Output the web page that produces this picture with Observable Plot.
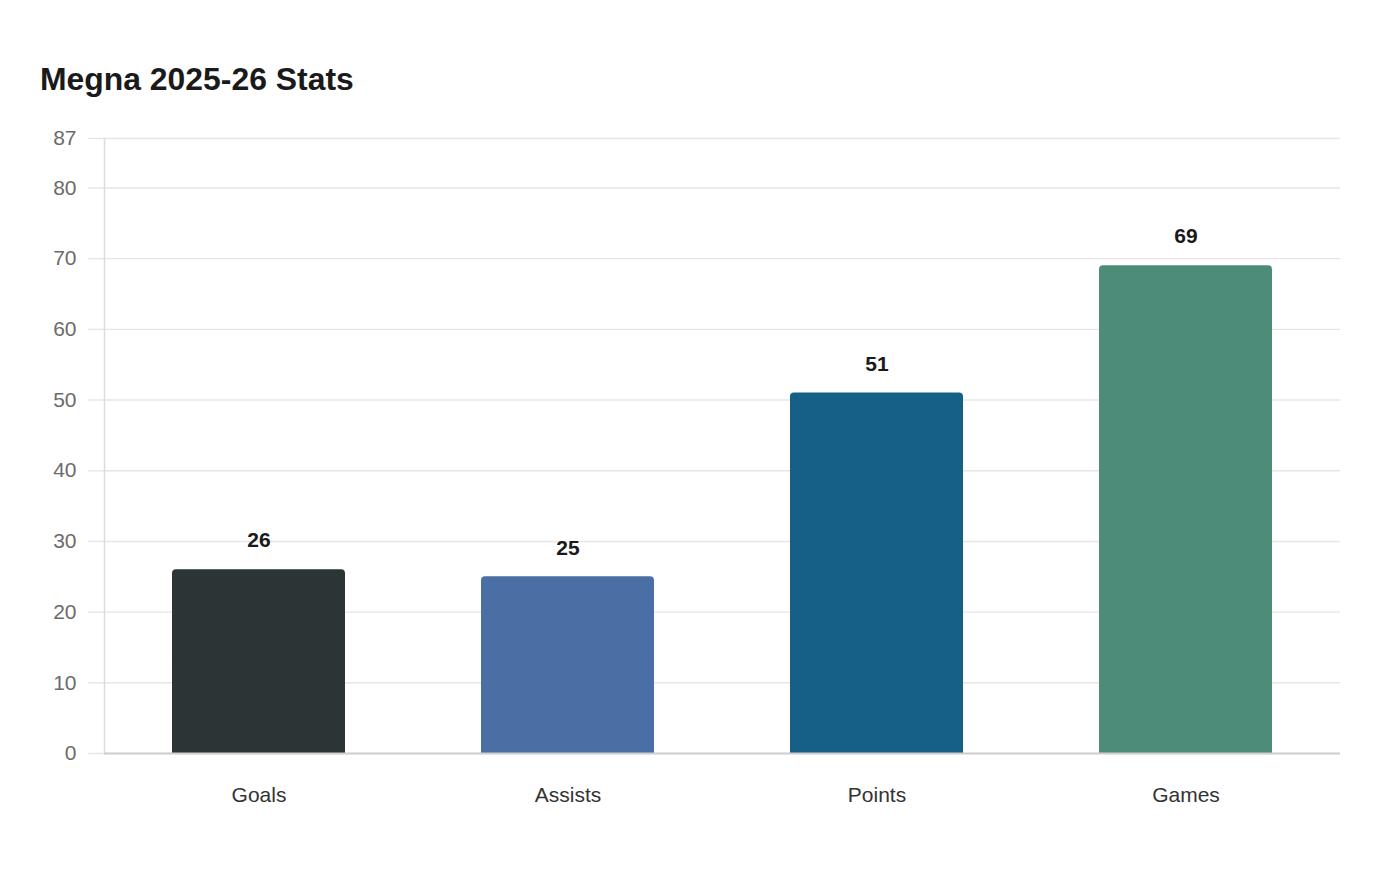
<!DOCTYPE html>
<html>
<head>
<meta charset="utf-8">
<script src="https://cdn.jsdelivr.net/npm/d3@7"></script>
<script src="https://cdn.jsdelivr.net/npm/@observablehq/plot@0.6"></script>
<style>
  html, body { margin: 0; padding: 0; background: #fff; }
  body { width: 1400px; height: 880px; overflow: hidden; font-family: "Liberation Sans", Arial, sans-serif; }
  #title { padding: 61px 0 0 40px; font-size: 31.9px; line-height: 36px; font-weight: bold; color: #1a1a1a; height: 35px; }
  svg { display: block; }
</style>
</head>
<body>
<div id="title">Megna 2025-26 Stats</div>
<div id="chart"></div>
<script>
const categories = ["Goals", "Assists", "Points", "Games"];
const values = [26, 25, 51, 69];
const colors = ["#2d3436", "#4a6fa5", "#166088", "#4e8c7a"];
const yTicks = [0, 10, 20, 30, 40, 50, 60, 70, 80, 87];

const data = categories.map((c, i) => ({category: c, value: values[i], color: colors[i]}));

const chart = Plot.plot({
  width: 1400,
  height: 784,
  marginLeft: 104,
  marginRight: 60,
  marginTop: 42,
  marginBottom: 127,
  style: {fontFamily: "Liberation Sans, Arial, sans-serif", background: "#fff"},
  x: {domain: categories, paddingInner: 0.44, paddingOuter: 0.22, label: null},
  y: {domain: [0, 87], label: null},
  marks: [
    Plot.ruleY(yTicks, {stroke: "#e6e6e6", strokeWidth: 1.4}),
    Plot.axisY({ticks: yTicks, tickSize: 16, tickPadding: 12, fontSize: 21, fill: "#6b6b6b", stroke: "#e6e6e6", strokeOpacity: 1, strokeWidth: 1.4, label: null}),
    Plot.frame({anchor: "left", stroke: "#dcdcdc", strokeWidth: 1.5}),
    Plot.barY(data, {x: "category", y: "value", fill: "color", rx: 4}),
    Plot.barY(data, {x: "category", y1: 0, y2: d => d.value / 2, fill: "color"}),
    Plot.ruleY([0], {stroke: "#cfcfcf", strokeWidth: 2}),
    Plot.axisX({tickSize: 0, tickPadding: 34, fontSize: 21, fill: "#333", label: null}),
    Plot.text(data, {x: "category", y: "value", text: d => String(d.value), dy: -29, fontSize: 21, fontWeight: "bold", fill: "#1a1a1a"})
  ]
});
document.getElementById("chart").appendChild(chart);
</script>
</body>
</html>
